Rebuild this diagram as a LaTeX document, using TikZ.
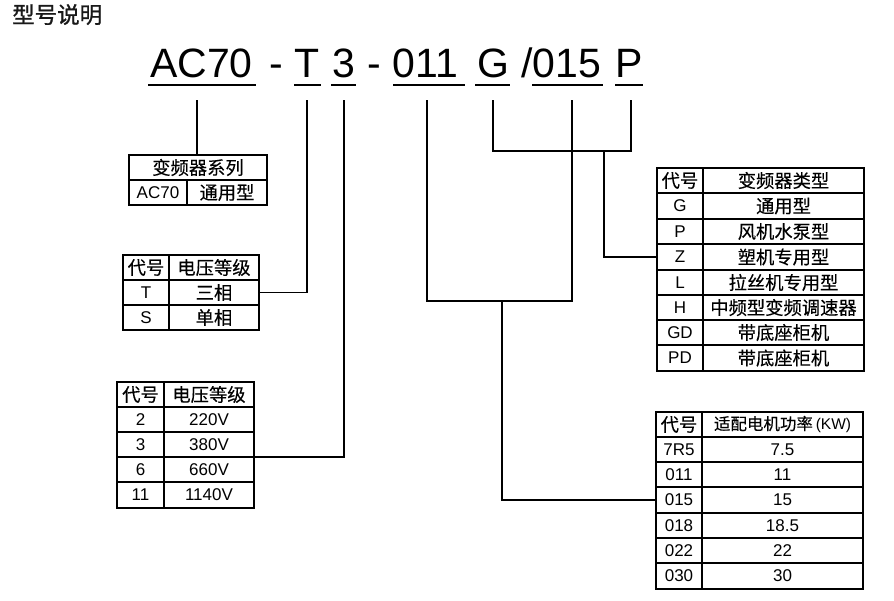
\documentclass[tikz,border=0pt]{standalone}
\usepackage{fontspec}
\setmainfont{Liberation Sans}
\newfontfamily\cjk[FakeBold=0.25]{Noto Sans CJK SC}
\newfontfamily\cjkt[FakeBold=1.1]{Noto Sans CJK SC}
\newcommand\zh{\cjk\fontsize{18.3}{20}\selectfont}
\newcommand\cel[6]{\node[cellbox, minimum width={(#4-#2)*1pt}, minimum height={(#5-#3)*1pt}, anchor=north west] (#1) at (#2,#3) {#6};}
\tikzset{
  cellbox/.style={draw, line width=1.1pt, inner sep=0pt, outer sep=0pt, font=\fontsize{17}{19}\selectfont},
  wire/.style={line width=1.1pt},
  codetxt/.style={font=\fontsize{41}{45}\selectfont, inner sep=0pt, anchor=base},
  uline/.style={line width=1.1pt}
}
\begin{document}
\begin{tikzpicture}[x=1pt,y=-1pt]
\useasboundingbox (0,0) rectangle (894,600);
% title
\node[anchor=north west, inner sep=0pt, text=black!90, font=\cjkt\fontsize{22.5}{25}\selectfont] (title) at (12,4) {型号说明};
% model code
\node[codetxt] (cAC) at (201.5,77) {AC70};
\node[codetxt] (cd1) at (276,77) {-};
\node[codetxt] (cT) at (307.5,77) {T};
\node[codetxt] (c3) at (344,77) {3};
\node[codetxt] (cd2) at (374,77) {-};
\node[codetxt] (c011) at (425.5,77) {011};
\node[codetxt] (cG) at (493.5,77) {G};
\node[codetxt] (c015) at (561,77) {/015};
\node[codetxt] (cP) at (629.5,77) {P};
% underlines
\draw[uline] (148,85) -- (256,85);
\draw[uline] (294,85) -- (321,85);
\draw[uline] (331,85) -- (356,85);
\draw[uline] (393,85) -- (465,85);
\draw[uline] (475,85) -- (510,85);
\draw[uline] (532,85) -- (603,85);
\draw[uline] (615,85) -- (643,85);
% table 1
\cel{t1h}{129}{155}{267}{180}{\zh 变频器系列}
\cel{t1a}{129}{180}{187}{205}{AC70}
\cel{t1b}{187}{180}{267}{205}{\zh 通用型}
% table 2
\cel{t2ha}{123}{255}{169}{280}{\zh 代号}
\cel{t2hb}{169}{255}{259}{280}{\zh 电压等级}
\cel{t2a1}{123}{280}{169}{305}{T}
\cel{t2b1}{169}{280}{259}{305}{\zh 三相}
\cel{t2a2}{123}{305}{169}{330}{S}
\cel{t2b2}{169}{305}{259}{330}{\zh 单相}
% table 3
\cel{t3ha}{117}{382}{164}{407}{\zh 代号}
\cel{t3hb}{164}{382}{254}{407}{\zh 电压等级}
\cel{t3a1}{117}{407}{164}{432}{2}
\cel{t3b1}{164}{407}{254}{432}{220V}
\cel{t3a2}{117}{432}{164}{457}{3}
\cel{t3b2}{164}{432}{254}{457}{380V}
\cel{t3a3}{117}{457}{164}{482}{6}
\cel{t3b3}{164}{457}{254}{482}{660V}
\cel{t3a4}{117}{482}{164}{508}{11}
\cel{t3b4}{164}{482}{254}{508}{1140V}
% table 4
\cel{t4ha}{657}{168}{703}{193}{\zh 代号}
\cel{t4hb}{703}{168}{864}{193}{\zh 变频器类型}
\cel{t4a1}{657}{193}{703}{219}{G}
\cel{t4b1}{703}{193}{864}{219}{\zh 通用型}
\cel{t4a2}{657}{219}{703}{244}{P}
\cel{t4b2}{703}{219}{864}{244}{\zh 风机水泵型}
\cel{t4a3}{657}{244}{703}{270}{Z}
\cel{t4b3}{703}{244}{864}{270}{\zh 塑机专用型}
\cel{t4a4}{657}{270}{703}{295}{L}
\cel{t4b4}{703}{270}{864}{295}{\zh 拉丝机专用型}
\cel{t4a5}{657}{295}{703}{320}{H}
\cel{t4b5}{703}{295}{864}{320}{\zh 中频型变频调速器}
\cel{t4a6}{657}{320}{703}{345}{GD}
\cel{t4b6}{703}{320}{864}{345}{\zh 带底座柜机}
\cel{t4a7}{657}{345}{703}{371}{PD}
\cel{t4b7}{703}{345}{864}{371}{\zh 带底座柜机}
% table 5
\cel{t5ha}{656}{412}{702}{437}{\zh 代号}
\cel{t5hb}{702}{412}{863}{437}{{\cjk\fontsize{16.5}{18}\selectfont 适配电机功率}\,{\fontsize{15.5}{17}\selectfont(KW)}}
\cel{t5a1}{656}{437}{702}{462}{7R5}
\cel{t5b1}{702}{437}{863}{462}{7.5}
\cel{t5a2}{656}{462}{702}{487}{011}
\cel{t5b2}{702}{462}{863}{487}{11}
\cel{t5a3}{656}{487}{702}{513}{015}
\cel{t5b3}{702}{487}{863}{513}{15}
\cel{t5a4}{656}{513}{702}{538}{018}
\cel{t5b4}{702}{513}{863}{538}{18.5}
\cel{t5a5}{656}{538}{702}{563}{022}
\cel{t5b5}{702}{538}{863}{563}{22}
\cel{t5a6}{656}{563}{702}{589}{030}
\cel{t5b6}{702}{563}{863}{589}{30}
% connector start points
\coordinate (pAC) at (197,100);
\coordinate (pT) at (307,100);
\coordinate (p3) at (344,100);
\coordinate (p011) at (427,100);
\coordinate (p015) at (572,100);
\coordinate (pG) at (493,100);
\coordinate (pP) at (631,100);
\coordinate (jPow) at (502,301);
\coordinate (jType) at (604,151);
% connectors
\draw[wire] (pAC) -- (pAC |- t1h.north);
\draw[wire] (pT) |- (t2b1.east);
\draw[wire] (p3) |- (t3b2.south east);
\draw[wire] (p011) -- (427,301) -| (p015);
\draw[wire] (jPow) |- (t5a3.west);
\draw[wire] (pG) -- (493,151) -| (pP);
\draw[wire] (jType) |- (t4a3.west);
\end{tikzpicture}
\end{document}
